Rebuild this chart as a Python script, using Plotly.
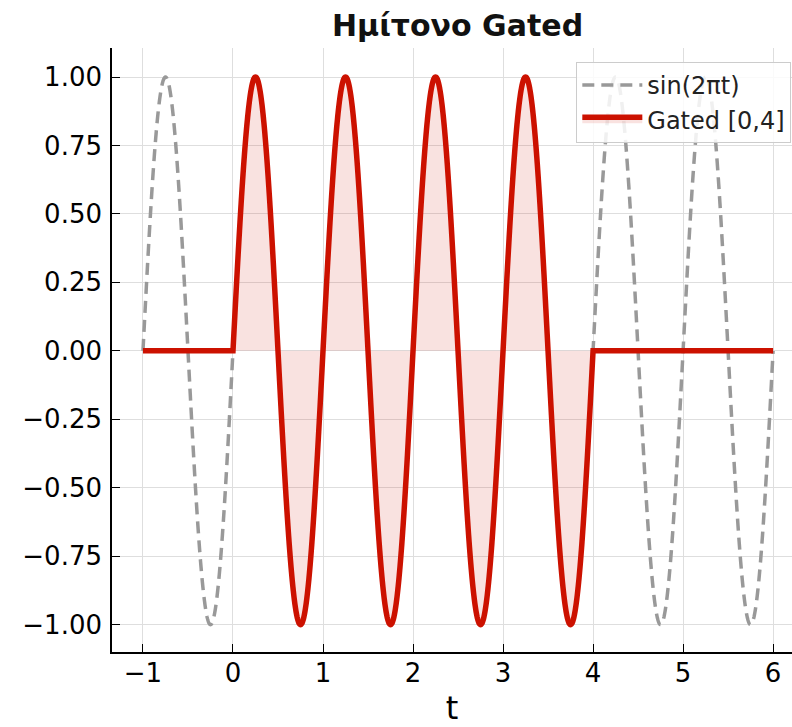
import numpy as np
import plotly.graph_objects as go

# Time axis and the two signals: the full sinusoid and its gated [0, 4] version
t_start, t_end = -1.0, 6.0
gate_lo, gate_hi = 0.0, 4.0
freq = 1.0
t = np.linspace(t_start, t_end, 2801)
sine = np.sin(2 * np.pi * freq * t)
gated = np.where((t >= gate_lo) & (t <= gate_hi), sine, 0.0)

x_ticks = [-1, 0, 1, 2, 3, 4, 5, 6]
x_ticktext = ["−1", "0", "1", "2", "3", "4", "5", "6"]
y_ticks = [-1.0, -0.75, -0.5, -0.25, 0.0, 0.25, 0.5, 0.75, 1.0]
y_ticktext = ["−1.00", "−0.75", "−0.50", "−0.25", "0.00", "0.25", "0.50", "0.75", "1.00"]

FONT = "DejaVu Sans"
RED = "#cc1100"

fig = go.Figure()
fig.add_trace(go.Scatter(
    x=t, y=sine, mode="lines", name="sin(2πt)",
    line=dict(color="#999999", width=3.5, dash="12px,7px", simplify=False),
))
fig.add_trace(go.Scatter(
    x=t, y=gated, mode="lines", name="Gated [0,4]",
    line=dict(color=RED, width=5.5, simplify=False),
    fill="tozeroy", fillcolor="rgba(204,17,0,0.12)",
))

axis_common = dict(
    showline=True, linecolor="black", linewidth=1.6,
    ticks="inside", ticklen=8, tickwidth=1.4, tickcolor="black",
    showgrid=True, gridcolor="#dedede", gridwidth=1,
    zeroline=False, mirror=False, automargin=False,
    tickfont=dict(family=FONT, size=26, color="black"),
)

fig.update_layout(
    width=792, height=727,
    margin=dict(l=112, r=0, t=48, b=75),
    paper_bgcolor="white", plot_bgcolor="white",
    title=dict(
        text="<b>Ημίτονο Gated</b>",
        x=0.5777, xanchor="center", y=0.965, yanchor="middle",
        font=dict(family=FONT, size=30, color="#111111"),
    ),
    xaxis=dict(
        range=[-1.344, 6.21], tickvals=x_ticks, ticktext=x_ticktext,
        title=dict(text="t", font=dict(family=FONT, size=32, color="black"), standoff=30),
        ticklabelstandoff=-3,
        **axis_common,
    ),
    yaxis=dict(
        range=[-1.1, 1.106], tickvals=y_ticks, ticktext=y_ticktext,
        ticklabelstandoff=3,
        **axis_common,
    ),
    legend=dict(
        x=0.999, xanchor="right", y=0.977, yanchor="top",
        bgcolor="rgba(255,255,255,0.85)", bordercolor="#cccccc", borderwidth=1,
        font=dict(family=FONT, size=24, color="#222222"),
        itemwidth=60,
    ),
    showlegend=True,
)

fig.write_html("out.html")
